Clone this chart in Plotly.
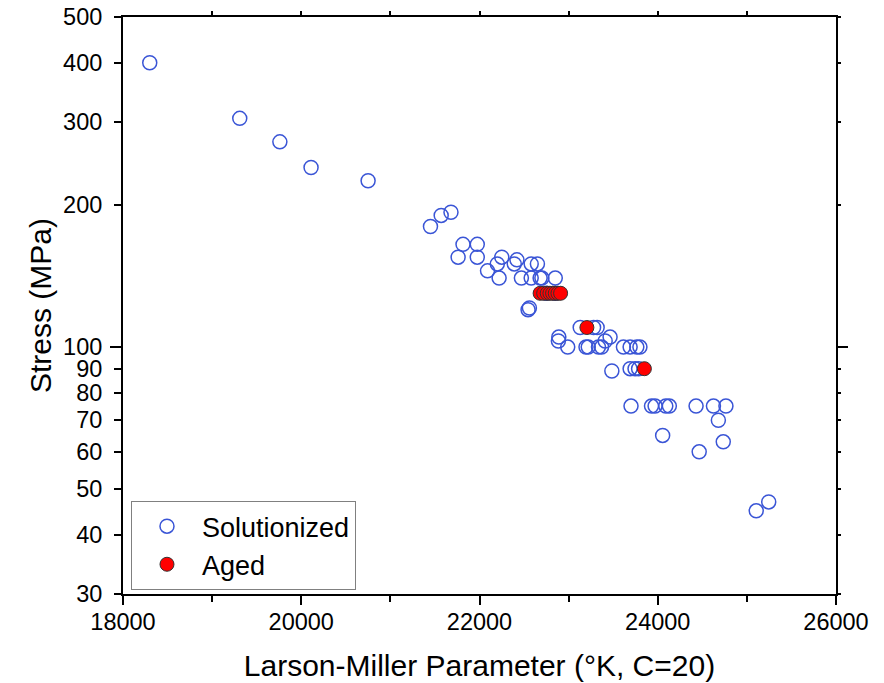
import plotly.graph_objects as go

# Solutionized data (Larson-Miller parameter, stress MPa)
lmp_sol = [18300, 19310, 19760, 20110, 20750,
           21450, 21570, 21680, 21815, 21975, 21760, 21975, 22090, 22250, 22200,
           22220, 22390, 22420, 22470, 22580, 22650, 22580, 22680, 22700, 22850,
           22545, 22560, 22750, 22850,
           23130, 23280, 23320, 22890, 22885, 22990, 23195, 23220, 23335, 23370,
           23465, 23410, 23615, 23690, 23765, 23800, 23485, 23690, 23745, 23785,
           23700, 23930, 23970, 24090, 24130, 24430, 24625, 24765, 24680, 24055,
           24735, 24465, 25245, 25105]
stress_sol = [400, 305, 272, 240, 225,
              180, 190, 193, 165, 165, 155, 155, 145, 155, 150,
              140, 150, 153, 140, 150, 150, 140, 140, 140, 140,
              120, 121, 130, 130,
              110, 110, 110, 105, 103, 100, 100, 100, 100, 100,
              105, 103, 100, 100, 100, 100, 89, 90, 90, 90,
              75, 75, 75, 75, 75, 75, 75, 75, 70, 65,
              63, 60, 47, 45]

# Aged data
lmp_aged = [22680, 22720, 22760, 22790, 22820, 22850, 22880, 22910, 23205, 23850]
stress_aged = [130, 130, 130, 130, 130, 130, 130, 130, 110, 90]

y_ticks = [30, 40, 50, 60, 70, 80, 90, 100, 200, 300, 400, 500]
y_decade = [100]
x_ticks = [18000, 20000, 22000, 24000, 26000]
x_minor = [19000, 21000, 23000, 25000]

x_range = [18000, 26000]
y_range = [1.47712, 2.69897]

font_family = "Liberation Sans, Arial, sans-serif"

fig = go.Figure()
fig.add_trace(go.Scatter(
    x=lmp_sol, y=stress_sol, mode="markers", name="Solutionized",
    marker=dict(symbol="circle-open", size=14, color="#3a55d6",
                line=dict(width=1.5, color="#3a55d6")),
))
fig.add_trace(go.Scatter(
    x=lmp_aged, y=stress_aged, mode="markers", name="Aged",
    marker=dict(symbol="circle", size=14, color="#ff0000",
                line=dict(width=1, color="#333333")),
))
# empty traces to anchor the extra tick axes
fig.add_trace(go.Scatter(x=[None], y=[None], xaxis="x2", yaxis="y2",
                         showlegend=False, hoverinfo="skip"))
fig.add_trace(go.Scatter(x=[None], y=[None], xaxis="x", yaxis="y3",
                         showlegend=False, hoverinfo="skip"))

fig.update_layout(
    width=884, height=683,
    margin=dict(l=123, r=48, t=17, b=89),
    paper_bgcolor="white", plot_bgcolor="white",
    font=dict(family=font_family, color="black", size=23.5),
    showlegend=True,
    legend=dict(
        x=0.0112, y=0.161, xanchor="left", yanchor="top",
        bgcolor="white", bordercolor="#808080", borderwidth=1,
        font=dict(size=27, family=font_family, color="black"),
        itemwidth=60, tracegroupgap=0,
    ),
    xaxis=dict(
        range=x_range, tickvals=x_ticks, ticktext=[str(v) for v in x_ticks],
        ticks="outside", ticklen=9, tickwidth=2, tickcolor="black",
        showline=True, linecolor="black", linewidth=2, mirror=True,
        showgrid=False, zeroline=False, automargin=False,
        ticklabelstandoff=-3,
        minor=dict(tickvals=x_minor, ticks="outside", ticklen=6,
                   tickwidth=2, tickcolor="black"),
        title=dict(text="Larson-Miller Parameter (°K, C=20)",
                   font=dict(size=30), standoff=21),
        tickfont=dict(size=23.5),
    ),
    yaxis=dict(
        type="log", range=y_range,
        tickvals=y_ticks, ticktext=[str(v) for v in y_ticks],
        ticks="outside", ticklen=7, tickwidth=2, tickcolor="black",
        showline=True, linecolor="black", linewidth=2, mirror=True,
        showgrid=False, zeroline=False, automargin=False,
        ticklabelstandoff=7,
        title=dict(text="Stress (MPa)", font=dict(size=30), standoff=3),
        tickfont=dict(size=23.5),
    ),
    xaxis2=dict(
        overlaying="x", side="top", range=x_range,
        tickvals=x_ticks[1:-1] + x_minor, ticks="outside", ticklen=5,
        tickwidth=2, tickcolor="black", showticklabels=False,
        showline=False, showgrid=False, zeroline=False, automargin=False,
    ),
    yaxis2=dict(
        overlaying="y", side="right", type="log", range=y_range,
        tickvals=[v for v in y_ticks if v not in y_decade], ticks="outside", ticklen=4,
        tickwidth=2, tickcolor="black", showticklabels=False,
        minor=dict(tickvals=y_decade, ticks="outside", ticklen=11,
                   tickwidth=2, tickcolor="black"),
        showline=False, showgrid=False, zeroline=False, automargin=False,
    ),
    yaxis3=dict(
        overlaying="y", side="left", type="log", range=y_range,
        tickvals=y_decade, ticks="outside", ticklen=12,
        tickwidth=2, tickcolor="black", showticklabels=False,
        showline=False, showgrid=False, zeroline=False, automargin=False,
    ),
)

fig.write_html("out.html")
